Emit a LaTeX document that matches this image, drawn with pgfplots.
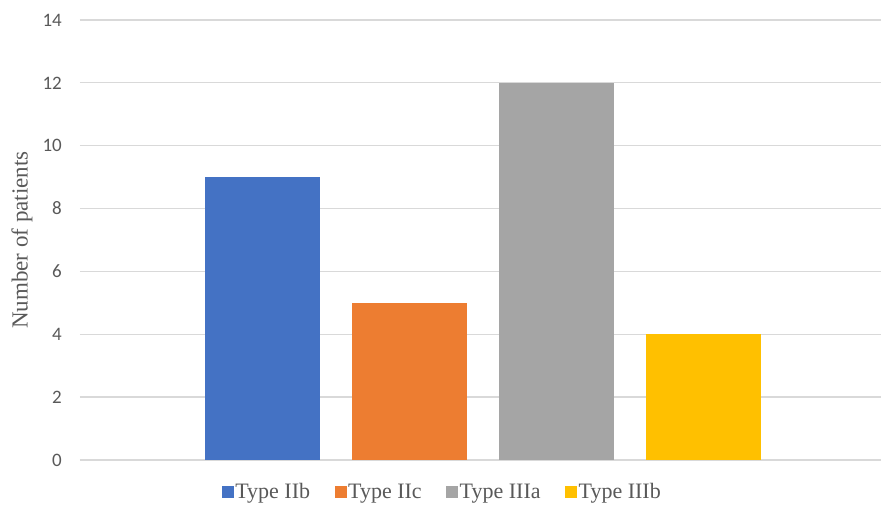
\documentclass[border=0pt]{standalone}
\usepackage{fontspec}
\setmainfont{Liberation Serif}
\newfontfamily\tickfont{Carlito}
\usepackage{pgfplots}
\pgfplotsset{compat=1.18}
\definecolor{txtgray}{HTML}{595959}
\definecolor{gridgray}{HTML}{D9D9D9}
\definecolor{cblue}{HTML}{4472C4}
\definecolor{corange}{HTML}{ED7D31}
\definecolor{cgray}{HTML}{A5A5A5}
\definecolor{cyellow}{HTML}{FFC000}
\begin{document}
\begin{tikzpicture}
\useasboundingbox (0,0) rectangle (881pt,518pt);
\begin{axis}[
  at={(80pt,58pt)}, anchor=south west,
  scale only axis, width=801pt, height=440pt,
  xmin=-1.241, xmax=4.207, ymin=0, ymax=14,
  ytick={0,2,...,14}, xtick=\empty,
  axis line style={draw=none},
  ymajorgrids, grid style={gridgray, line width=1.3pt},
  major tick length=0pt,
  /pgf/number format/assume math mode=true,
  yticklabel style={font=\tickfont\fontsize{19}{19}\selectfont, text=txtgray, inner sep=0pt, xshift=-18pt},
  ylabel={Number of patients},
  every axis y label/.style={at={(axis description cs:0,0.5)}, rotate=90, anchor=center, yshift=58pt, font=\fontsize{23}{23}\selectfont, text=txtgray},
  ybar, bar width=115pt, bar shift=0pt,
  legend columns=4,
  legend style={at={(0.452,-0.0727)}, anchor=center, draw=none, fill=none,
    font=\fontsize{22}{22}\selectfont, text=txtgray, inner sep=0pt,
    /tikz/every even column/.append style={column sep=23pt},
    nodes={inner sep=1.5pt}},
  legend image code/.code={\fill[#1] (0pt,-6pt) rectangle (12pt,6pt);},
]
\addplot[fill=cblue, draw=none] coordinates {(0,9)};
\addlegendentry{Type IIb}
\addplot[fill=corange, draw=none] coordinates {(1,5)};
\addlegendentry{Type IIc}
\addplot[fill=cgray, draw=none] coordinates {(2,12)};
\addlegendentry{Type IIIa}
\addplot[fill=cyellow, draw=none] coordinates {(3,4)};
\addlegendentry{Type IIIb}
\end{axis}
\end{tikzpicture}
\end{document}
